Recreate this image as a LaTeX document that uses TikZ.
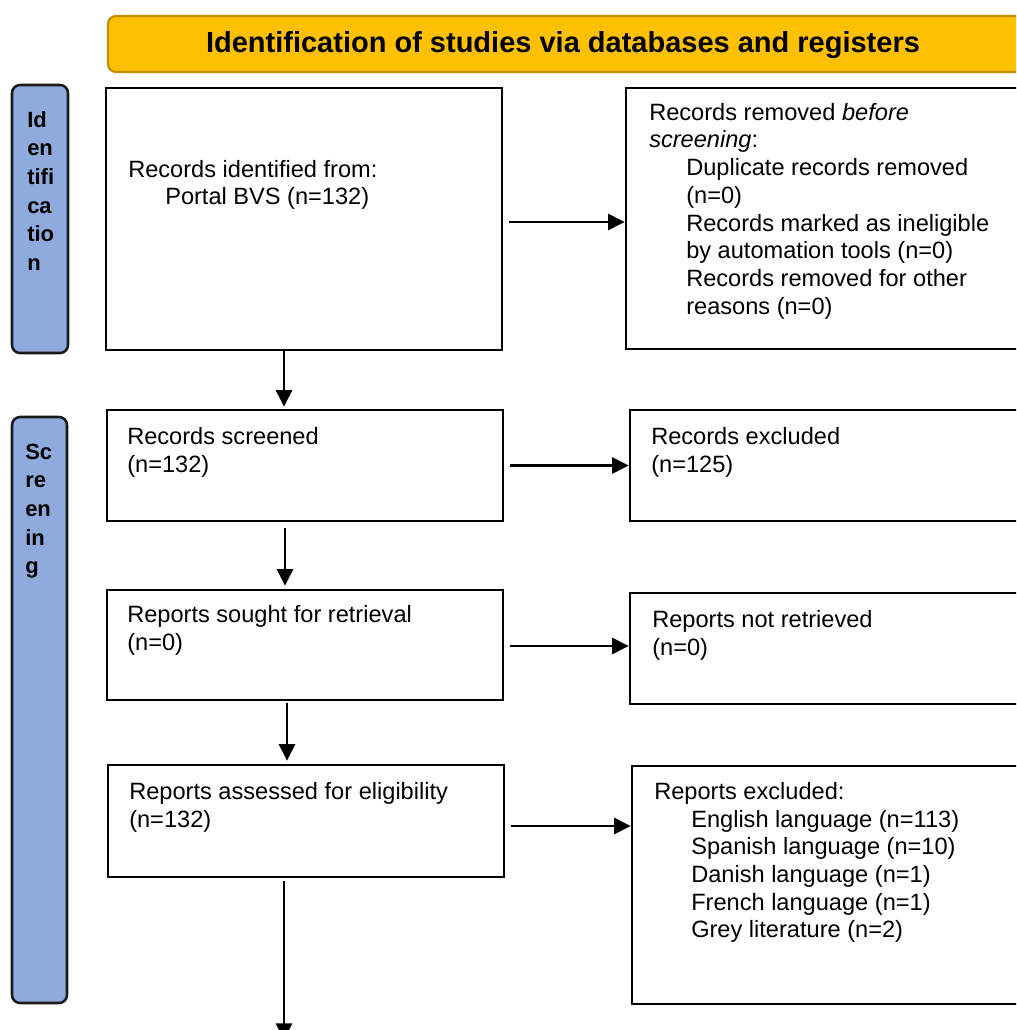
\documentclass[tikz,border=0pt]{standalone}
\usepackage{fontspec}
\setmainfont{Liberation Sans}
\usetikzlibrary{arrows.meta,fit,calc}
\definecolor{hdr}{HTML}{FFC000}
\definecolor{hdrline}{HTML}{BF9000}
\definecolor{sidefill}{HTML}{8FAADC}
\newcommand{\fstrut}{\rule{0pt}{13.5pt}}
\newcommand{\sstrut}{\rule{0pt}{12pt}}
\newcommand{\ind}{\hspace*{27.75pt}}
\begin{document}
\begin{tikzpicture}[x=0.75pt,y=-0.75pt,
  boxst/.style={draw=black, line width=1.9pt, inner sep=0pt},
  sidest/.style={draw=black!90, fill=sidefill, line width=1.9pt, rounded corners=6pt, inner sep=0pt},
  hdrst/.style={draw=hdrline, fill=hdr, line width=1.6pt, rounded corners=6pt, inner sep=0pt},
  txt/.style={anchor=north west, inner sep=0pt, align=left, font=\fontsize{17.7pt}{20.8pt}\selectfont},
  sidetxt/.style={anchor=north west, inner sep=0pt, align=left, font=\bfseries\fontsize{16.5pt}{21.5pt}\selectfont},
  hdrtxt/.style={inner sep=0pt, font=\bfseries\fontsize{21.75pt}{26pt}\selectfont},
  arr/.style={line width=2pt, -{Triangle[length=12.5pt,width=12pt]}}]
\useasboundingbox (0,0) rectangle (1016,1030);
\begin{scope}
\clip (0,0) rectangle (1016,1030);
% header
\node[hdrst, fit={(108,16)(1045,72)}] (hdr) {};
\node[hdrtxt] (hdrt) at (563,45) {Identification of studies via databases and registers};
% side labels
\node[sidest, fit={(12,85)(68,353)}] (side1) {};
\node[sidetxt] (side1t) at (27,111) {\sstrut Id\\en\\tifi\\ca\\tio\\n};
\node[sidest, fit={(12,417)(67,1003)}] (side2) {};
\node[sidetxt] (side2t) at (25,443) {\sstrut Sc\\re\\en\\in\\g};
% left boxes
\node[boxst, fit={(106,88)(502,350)}] (b1) {};
\node[boxst, fit={(107,410)(503,521)}] (b2) {};
\node[boxst, fit={(107,590)(503,700)}] (b3) {};
\node[boxst, fit={(108,765)(504,877)}] (b4) {};
% right boxes
\node[boxst, fit={(626,88)(1045,349)}] (r1) {};
\node[boxst, fit={(630,410)(1045,521)}] (r2) {};
\node[boxst, fit={(630,593)(1045,704)}] (r3) {};
\node[boxst, fit={(632,766)(1045,1004)}] (r4) {};
% texts
\node[txt] (t1) at (128,159) {\fstrut Records identified from:\\\ind Portal BVS (n=132)};
\node[txt] (t2) at (127,426) {\fstrut Records screened\\(n=132)};
\node[txt] (t3) at (127,604) {\fstrut Reports sought for retrieval\\(n=0)};
\node[txt] (t4) at (129,781) {\fstrut Reports assessed for eligibility\\(n=132)};
\node[txt] (tr1) at (649,102) {\fstrut Records removed \textit{before}\\\textit{screening}:\\\ind Duplicate records removed\\\ind (n=0)\\\ind Records marked as ineligible\\\ind by automation tools (n=0)\\\ind Records removed for other\\\ind reasons (n=0)};
\node[txt] (tr2) at (651,426) {\fstrut Records excluded\\(n=125)};
\node[txt] (tr3) at (652,609) {\fstrut Reports not retrieved\\(n=0)};
\node[txt] (tr4) at (654,781) {\fstrut Reports excluded:\\\ind English language (n=113)\\\ind Spanish language (n=10)\\\ind Danish language (n=1)\\\ind French language (n=1)\\\ind Grey literature (n=2)};
% vertical arrows
\draw[arr] ($(b1.south)+(-20,0)$) -- ($(b2.north)+(-21,-2)$);
\draw[arr] ($(b2.south)+(-20,6)$) -- ($(b3.north)+(-20,-3)$);
\draw[arr] ($(b3.south)+(-18,2)$) -- ($(b4.north)+(-19,-3)$);
\coordinate (out) at (284,1040);
\draw[arr] ($(b4.south)+(-22,3)$) -- (out);
% horizontal arrows
\draw[arr] ($(b1.east)+(6,3)$) -- ($(b1.east -| r1.west)+(0,3)$);
\draw[arr] ($(b2.east)+(6,0)$) -- (b2.east -| r2.west);
\draw[arr] ($(b3.east)+(6,1)$) -- ($(b3.east -| r3.west)+(0,1)$);
\draw[arr] ($(b4.east)+(6,5)$) -- ($(b4.east -| r4.west)+(0,5)$);
\end{scope}
\end{tikzpicture}
\end{document}
